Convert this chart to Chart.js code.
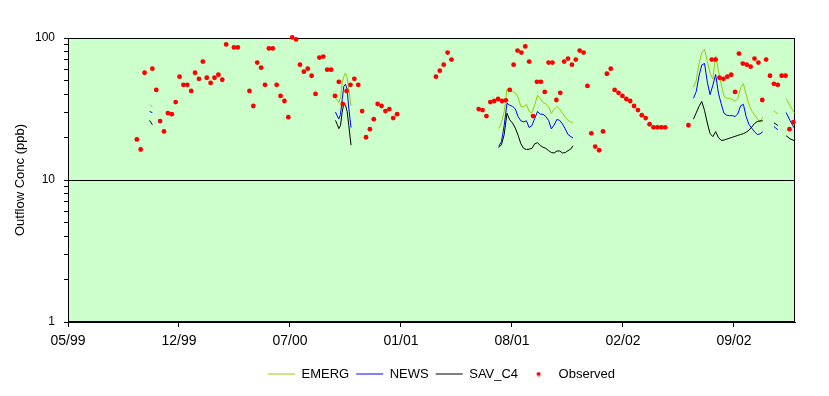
<!DOCTYPE html>
<html><head><meta charset="utf-8">
<script src="https://cdn.jsdelivr.net/npm/chart.js@4.4.1/dist/chart.umd.min.js"></script>
<style>html,body{margin:0;padding:0;background:#fff;}#wrap{width:829px;height:396px;}</style>
</head><body>
<div id="wrap"><canvas id="c" width="829" height="396"></canvas></div>
<script>
// x values are days since 1999-01-01
const xMinDay = 148, xMaxDay = 1458;
const xTickDays = [148, 348, 548, 748, 948, 1148, 1348];
const yTickValues = [1,2,3,4,5,6,7,8,9,10,20,30,40,50,60,70,80,90,100];
const yLabelled = [1, 10, 100];

const seriesNames = ['EMERG', 'NEWS', 'SAV_C4', 'Observed'];

const obsDays = [272,279,286,300,307,314,321,328,335,342,349,356,363,370,377,384,391,398,405,412,419,426,433,447,454,
  475,482,489,496,503,510,517,524,531,538,545,552,559,566,573,580,587,594,601,608,615,622,629,636,643,650,657,664,671,678,685,692,699,706,713,720,727,734,741,
  811,818,825,832,839,
  888,895,902,909,916,923,930,937,944,951,958,965,972,979,986,993,1000,1007,1014,1021,1028,1035,1042,1049,1056,1063,1070,1077,1084,1091,1098,1105,1112,1119,1126,1133,1140,1147,1154,1161,1168,1175,1182,1189,1196,1203,1210,1217,1224,
  1266,
  1308,1315,1322,1329,1336,1343,1350,1357,1364,1371,1378,1385,1392,1399,1406,1413,1420,1427,1434,1441,1448,1455];
const obsValues = [19.3,16.4,56.9,60.8,43.1,26.0,22.0,29.6,29.1,35.4,53.4,46.8,46.8,42.4,56.9,51.6,68.2,52.5,48.3,52.5,55.1,50.8,90.1,85.8,85.8,
  42.4,33.2,67.1,61.8,46.8,84.4,84.4,46.8,39.1,36.0,27.7,101.0,97.7,64.9,57.9,60.8,54.2,40.4,72.8,74.0,59.8,59.8,39.1,49.1,34.3,42.4,46.8,51.6,46.8,30.6,20.0,22.8,26.8,34.3,33.2,30.6,31.6,27.3,29.1,
  53.4,58.9,64.9,79.0,70.5,
  31.6,31.1,28.2,35.4,36.0,37.2,36.0,36.4,43.1,64.9,81.6,79.0,87.2,68.2,28.2,49.1,49.1,41.7,67.1,67.1,36.6,41.1,68.2,71.6,64.9,70.5,81.6,79.0,46.0,21.3,17.2,16.2,22.0,56.0,60.8,43.1,41.1,39.1,37.2,36.0,33.2,31.1,28.6,27.3,24.7,23.5,23.5,23.5,23.5,
  24.3,
  70.5,70.5,52.5,51.6,53.4,55.1,41.7,77.7,66.0,64.9,62.8,71.6,67.1,36.6,70.5,54.2,47.6,46.8,54.2,54.2,22.8,25.5];

// model output days (a null value marks a break in the lines)
const modelDays = [295,300, 465,
  630,633,636,639,642,645,648,651,654,658, 790,
  924,929,934,939,944,949,954,959,964,969,974,979,984,989,994,999,1004,1009,1014,1019,1024,1029,1034,1039,1044,1049,1054,1058, 1166,
  1275,1280,1285,1290,1295,1300,1305,1310,1315,1320,1325,1330,1335,1340,1345,1350,1355,1360,1365,1370,1375,1380,1385,1390,1395,1400, 1410,
  1420,1427, 1434,
  1442,1449,1457];
const emerg = [34.0,32.7, null,
  37.8,36.6,35.1,38.0,48.5,53.5,56.7,52.2,44.0,33.3, null,
  23.0,25.4,30.4,43.6,42.0,42.2,40.9,38.3,33.0,32.8,34.1,30.4,29.7,33.8,39.5,37.5,35.1,34.5,32.8,29.5,31.5,33.0,31.5,29.5,27.6,26.3,25.6,25.2, null,
  45.1,50.1,65.7,78.6,83.3,68.4,56.7,51.4,74.9,59.0,47.3,38.9,37.6,37.6,36.9,35.8,37.6,44.7,47.7,39.9,34.2,30.7,28.8,27.1,25.5,27.6, null,
  30.6,29.3, null,
  37.5,33.3,29.6];
const news = [30.4,29.8, null,
  30.1,28.3,26.9,29.0,36.7,45.8,47.3,43.6,32.0,23.4, null,
  17.3,18.6,24.2,34.7,33.6,33.0,31.7,28.0,26.1,25.7,26.1,23.4,24.2,27.1,30.4,29.1,29.0,28.0,26.3,22.9,24.4,26.7,26.3,24.8,22.9,20.9,20.2,19.8, null,
  37.6,41.9,54.0,64.6,66.2,48.9,39.9,46.6,55.3,40.9,34.4,29.5,28.6,28.4,28.4,28.0,29.2,33.3,34.1,28.0,24.6,23.2,21.9,20.9,21.1,21.9, null,
  23.8,22.6, null,
  29.9,26.3,23.0];
const savC4 = [26.3,24.5, null,
  26.3,24.7,23.0,24.2,29.9,34.7,33.6,30.4,24.2,17.6, null,
  16.9,17.7,20.9,29.5,26.5,25.2,23.2,20.7,18.0,16.7,16.4,16.5,16.7,18.0,18.3,17.5,17.0,16.7,16.1,15.6,15.5,16.0,16.0,15.5,15.6,16.1,16.5,17.4, null,
  26.8,29.7,33.0,35.7,30.9,25.2,21.2,20.2,21.9,19.9,19.0,19.1,19.4,19.7,20.0,20.3,20.6,20.9,21.2,21.7,22.4,23.6,25.0,25.8,26.1,26.1, null,
  25.3,24.2, null,
  20.5,19.5,18.9];

const FONT = "'Liberation Sans', Arial, sans-serif";
const pts = (xs, ys) => xs.map((x, i) => ({x: x, y: ys[i]}));

function fmtDay(d) {
  const dt = new Date(Date.UTC(1999, 0, 1) + d * 86400000);
  const m = String(dt.getUTCMonth() + 1).padStart(2, '0');
  const y = String(dt.getUTCFullYear() % 100).padStart(2, '0');
  return m + '/' + y;
}

// small red dot used as the legend symbol for the observed series
const dot = document.createElement('canvas');
dot.width = 5; dot.height = 5;
(function(){ const g = dot.getContext('2d'); g.fillStyle = '#ff0000'; g.beginPath(); g.arc(2.5, 2.5, 2, 0, Math.PI*2); g.fill(); })();

const plotBg = {
  id: 'plotBg',
  beforeDraw(chart) {
    const a = chart.chartArea, c = chart.ctx;
    c.save(); c.fillStyle = '#ccffcc'; c.fillRect(a.left, a.top, a.right - a.left, a.bottom - a.top); c.restore();
  },
  beforeDatasetsDraw(chart) {
    const a = chart.chartArea, c = chart.ctx;
    c.save(); c.strokeStyle = '#000'; c.lineWidth = 1;
    c.strokeRect(Math.round(a.left) + 0.5, Math.round(a.top) + 0.5, Math.round(a.right - a.left) - 1, Math.round(a.bottom - a.top) - 1);
    c.restore();
  }
};

// shift the legend so it sits under the plot as in the original (half-pixel for crisp sample lines)
const legendShift = {
  id: 'legendShift',
  afterLayout(chart) {
    const lg = chart.legend;
    if (lg) { lg.left += 44; lg.right += 44; lg.top += 0.5; lg.bottom += 0.5; }
  }
};

const lineDs = (label, ys, color, order) => ({
  label: label, data: pts(modelDays, ys), showLine: true, spanGaps: false,
  borderColor: color, backgroundColor: color, borderWidth: 1, pointRadius: 0, pointHoverRadius: 0, order: order
});

new Chart(document.getElementById('c'), {
  type: 'scatter',
  data: {
    datasets: [
      lineDs(seriesNames[0], emerg, '#99cc00', 3),
      lineDs(seriesNames[1], news, '#0000ff', 2),
      lineDs(seriesNames[2], savC4, '#000000', 1),
      { label: seriesNames[3], data: pts(obsDays, obsValues), showLine: false,
        pointRadius: 2.4, pointBackgroundColor: '#ff0000', pointBorderColor: '#ff0000', pointBorderWidth: 0,
        pointHoverRadius: 2.4, order: 0, clip: false }
    ]
  },
  options: {
    responsive: false, animation: false, devicePixelRatio: 1, events: [],
    layout: { padding: { left: 0, right: 34, top: 38, bottom: 6 } },
    plugins: {
      tooltip: { enabled: false },
      legend: {
        position: 'bottom',
        labels: {
          usePointStyle: true, pointStyleWidth: 27, boxHeight: 5, padding: 7,
          color: '#000', font: { family: FONT, size: 13 },
          generateLabels(chart) {
            return chart.data.datasets.map((ds, i) => ({
              text: ds.label, datasetIndex: i, hidden: false, fontColor: '#000',
              fillStyle: i === 3 ? '#ff0000' : ds.borderColor,
              strokeStyle: i === 3 ? '#ff0000' : ds.borderColor,
              lineWidth: 1,
              pointStyle: i === 3 ? dot : 'line'
            }));
          }
        }
      }
    },
    scales: {
      x: {
        type: 'linear', min: xMinDay, max: xMaxDay,
        afterBuildTicks(s) { s.ticks = xTickDays.map(v => ({ value: v })); },
        afterFit(s) { s.height = 38; },
        ticks: { autoSkip: false, maxRotation: 0, padding: 6, color: '#000', font: { family: FONT, size: 14 }, callback: v => fmtDay(v) },
        grid: { drawOnChartArea: false, tickColor: '#000', tickLength: 5 },
        border: { display: true, color: '#000' }
      },
      y: {
        type: 'logarithmic', min: 1, max: 100,
        afterBuildTicks(s) { s.ticks = yTickValues.map(v => ({ value: v, major: yLabelled.includes(v) })); },
        afterFit(s) { s.width = 68; },
        ticks: { autoSkip: false, padding: 9, color: '#000', font: { family: FONT, size: 12 },
          callback: v => yLabelled.includes(v) ? String(v) : '' },
        grid: { drawOnChartArea: true, tickLength: 4, tickColor: '#000',
          color: ctx => (ctx.tick && ctx.tick.value === 10) ? '#000' : 'rgba(0,0,0,0)' },
        border: { display: true, color: '#000' },
        title: { display: true, text: 'Outflow Conc (ppb)', color: '#000', font: { family: FONT, size: 13 }, padding: { top: 13, bottom: 0 } }
      }
    }
  },
  plugins: [plotBg, legendShift]
});
</script>
</body></html>
